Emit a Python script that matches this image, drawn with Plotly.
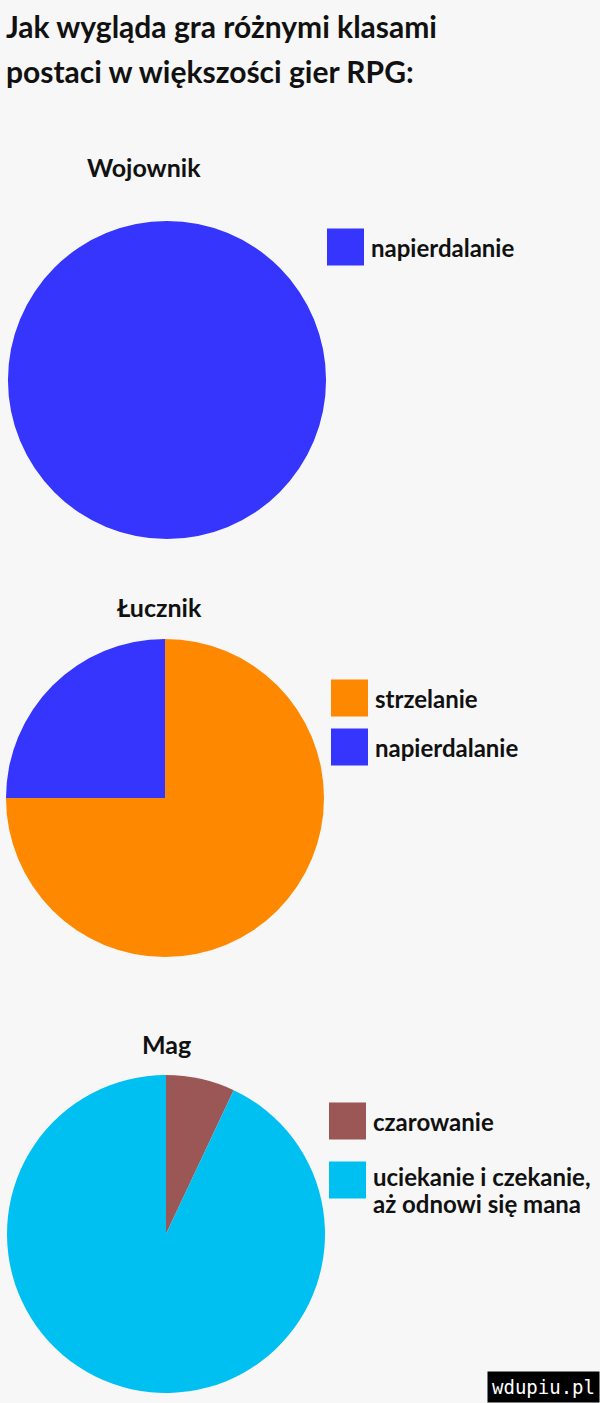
import plotly.graph_objects as go

W, H = 600, 1403
FONT = "Lato"

# dane
tytul = ["Jak wygląda gra różnymi klasami", "postaci w większości gier RPG:"]
klasy = ["Wojownik", "Łucznik", "Mag"]

wojownik_labels = ["napierdalanie"]
wojownik_values = [100]
wojownik_colors = ["#3535fd"]

lucznik_labels = ["strzelanie", "napierdalanie"]
lucznik_values = [75, 25]
lucznik_colors = ["#fe8800", "#3535fd"]

mag_labels = ["czarowanie", "uciekanie i czekanie,<br>aż odnowi się mana"]
mag_values = [7, 93]
mag_colors = ["#9b5656", "#00bff1"]

# uklad (piksele)
pies = [
    dict(labels=wojownik_labels, values=wojownik_values, colors=wojownik_colors,
         cx=167, cy=380, title_x=144, title_y=167, leg_x=327, leg_y=[247]),
    dict(labels=lucznik_labels, values=lucznik_values, colors=lucznik_colors,
         cx=165, cy=798, title_x=159, title_y=607, leg_x=331, leg_y=[698, 747]),
    dict(labels=mag_labels, values=mag_values, colors=mag_colors,
         cx=166, cy=1234, title_x=166, title_y=1044, leg_x=329, leg_y=[1121, 1180]),
]
R = 159
SQ = 37
LINE = 27


def px(x):
    return x / W


def py_(y):
    return 1 - y / H


fig = go.Figure()
annotations = []
shapes = []

for i, t in enumerate(tytul):
    annotations.append(dict(
        text="<b>%s</b>" % t, x=px(4), y=py_(26 + i * 45), xref="paper", yref="paper",
        xanchor="left", yanchor="middle", showarrow=False,
        font=dict(family=FONT, size=30, color="#111111")))

for name, p in zip(klasy, pies):
    fig.add_trace(go.Pie(
        labels=p["labels"], values=p["values"],
        marker=dict(colors=p["colors"], line=dict(width=0)),
        sort=False, direction="clockwise", rotation=0,
        textinfo="none", hoverinfo="label+percent", showlegend=False,
        domain=dict(x=[px(p["cx"] - R), px(p["cx"] + R)],
                    y=[py_(p["cy"] + R), py_(p["cy"] - R)]),
    ))
    annotations.append(dict(
        text="<b>%s</b>" % name, x=px(p["title_x"]), y=py_(p["title_y"]),
        xref="paper", yref="paper", xanchor="center", yanchor="middle",
        showarrow=False, font=dict(family=FONT, size=25, color="#111111")))
    for lab, col, ly in zip(p["labels"], p["colors"], p["leg_y"]):
        shapes.append(dict(
            type="rect", xref="paper", yref="paper",
            x0=px(p["leg_x"]), x1=px(p["leg_x"] + SQ),
            y0=py_(ly + SQ / 2), y1=py_(ly - SQ / 2),
            fillcolor=col, line=dict(width=0)))
        lines = lab.split("<br>")
        y0 = ly - 4 if len(lines) > 1 else ly
        for k, line in enumerate(lines):
            annotations.append(dict(
                text="<b>%s</b>" % line, x=px(p["leg_x"] + SQ + 5),
                y=py_(y0 + k * LINE),
                xref="paper", yref="paper", xanchor="left", yanchor="middle",
                align="left", showarrow=False,
                font=dict(family=FONT, size=24, color="#111111")))

annotations.append(dict(
    text="wdupiu.pl", x=1, y=0, xref="paper", yref="paper",
    xanchor="right", yanchor="bottom", showarrow=False,
    bgcolor="#000000", borderpad=4,
    font=dict(family="DejaVu Sans Mono", size=19, color="#ffffff")))

fig.update_layout(
    width=W, height=H,
    margin=dict(l=0, r=0, t=0, b=0),
    paper_bgcolor="#f7f7f7", plot_bgcolor="#f7f7f7",
    annotations=annotations, shapes=shapes,
)

fig.write_html("out.html", config={"displayModeBar": False},
               post_script="document.body.style.margin='0';")
